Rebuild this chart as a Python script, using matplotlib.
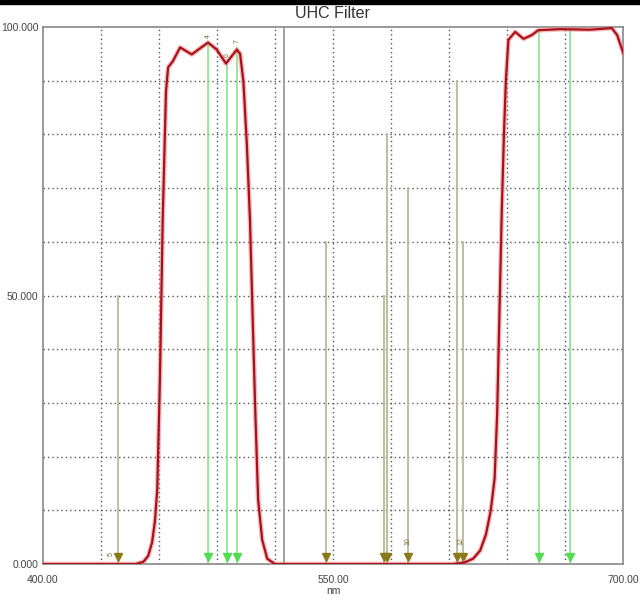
import matplotlib

matplotlib.use('Agg')
import matplotlib.pyplot as plt
from matplotlib.patches import Rectangle

# Transmission curve of the filter (nm, %)
wavelength = [400, 448, 452, 454.5, 456.5, 458, 459.2, 460.6, 462, 463.7, 464.8,
              467.2, 471, 477, 485.4, 489.9, 494.7, 500.3, 502, 503.7, 505.5,
              507.1, 509.7, 511.3, 513.4, 516, 520, 560, 600, 612, 618, 622.4,
              626, 629, 631.5, 633.5, 634.8, 636, 637.2, 638.3, 639.3, 640.6,
              644.1, 648.4, 652.7, 656, 667.3, 682.8, 694, 696.8, 700]
transmission = [0, 0, 0.4, 1.5, 4, 8, 14, 35, 64, 88, 92.5,
                93.6, 96.2, 94.9, 97.1, 95.8, 93.2, 95.8, 95, 89.8, 78,
                64, 30, 12, 4.5, 1, 0, 0, 0, 0, 0.3, 1,
                2.5, 5.5, 10, 16, 28, 47, 66, 80, 90, 97.6,
                99.1, 97.8, 98.5, 99.4, 99.6, 99.5, 99.8, 98.5, 95.1]

# Nebula emission lines (green) and light-pollution lines (olive)
nebula_nm = [485.5, 495.3, 500.4, 656.4, 672.5]
nebula_height = [97, 93, 96, 99.5, 99.5]
pollution_nm = [439, 546.4, 576.4, 578, 588.8, 614.1, 617.2]
pollution_height = [50, 60, 50, 80, 70, 90, 60]
cursor_nm = 524.8

plt.rcParams['font.family'] = ['Liberation Sans', 'DejaVu Sans']

fig = plt.figure(figsize=(6.4, 5.99), dpi=100)
ax = fig.add_axes([0.0667, 0.0584, 0.9073, 0.8965])

# black strip at the very top of the screenshot
fig.patches.append(Rectangle((0, 0.993), 1, 0.007, transform=fig.transFigure,
                             color='black', zorder=10))

ax.set_xlim(400, 700)
ax.set_ylim(0, 100)

# dotted grid, 10 x 10 divisions
for gx in range(430, 700, 30):
    ax.axvline(gx, color='#555555', linestyle=(0, (1, 2.2)), linewidth=1, zorder=1)
for gy in range(10, 100, 10):
    ax.axhline(gy, color='#555555', linestyle=(0, (1, 2.2)), linewidth=1, zorder=1)

ax.axvline(cursor_nm, color='#9a9a9a', linewidth=1.3, zorder=2)

for x, h in zip(pollution_nm, pollution_height):
    ax.plot([x, x], [0, h], color='#b8b89a', linewidth=1.3, zorder=2)
    ax.plot(x, 1.3, marker='v', color='#8a7a1a', markersize=5.5, zorder=4)

for x, h in zip(nebula_nm, nebula_height):
    ax.plot([x, x], [0, h], color='#7ee07e', linewidth=1.1, zorder=2)
    ax.plot(x, 1.3, marker='v', color='#4fdc4f', markersize=5.5, zorder=4)

# small rotated marker labels
small = dict(fontsize=5, rotation=90, color='#7a6a2a', ha='center', va='bottom')
ax.text(435.5, 1.5, '5', **small)
ax.text(588.8, 3.5, '10', **small)
ax.text(616, 3.5, '12', **small)
ax.text(485.5, 98, '4', **small)
ax.text(495.3, 94.5, '6', **small)
ax.text(500.4, 97, '7', **small)

ax.plot(wavelength, transmission, color='#f08080', linewidth=3.5, alpha=0.5, zorder=5)
ax.plot(wavelength, transmission, color='#a8101c', linewidth=1.6, zorder=6)

ax.set_xticks([400, 550, 700])
ax.set_xticklabels(['400.00', '550.00', '700.00'])
ax.set_yticks([0, 50, 100])
ax.set_yticklabels(['0.000', '50.000', '100.000'])
ax.tick_params(axis='x', length=0, labelsize=7.5, colors='#444444', pad=8)
ax.tick_params(axis='y', length=0, labelsize=7.5, colors='#444444', pad=3)
ax.set_xlabel('nm', fontsize=7.5, color='#444444', labelpad=0.5)

for s in ax.spines.values():
    s.set_color('#888888')
    s.set_linewidth(1.2)

fig.text(0.52, 0.977, 'UHC Filter', ha='center', va='center', fontsize=11.5,
         color='#333333')

fig.savefig('out.png', dpi=100)
